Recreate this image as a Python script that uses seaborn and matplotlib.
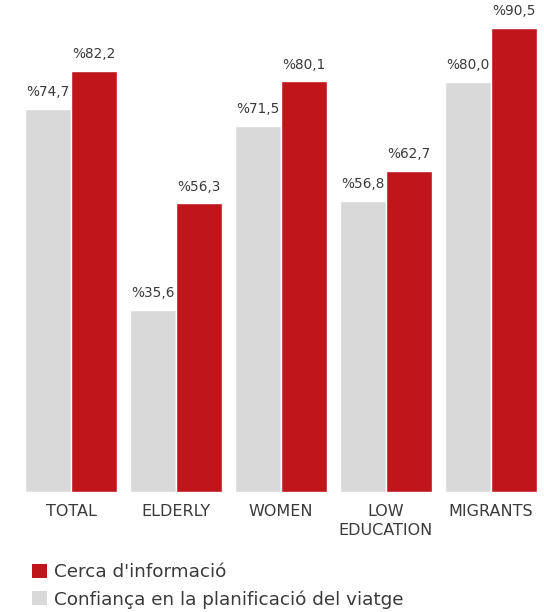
import matplotlib
matplotlib.use("Agg")
import matplotlib.pyplot as plt
from matplotlib.patches import Patch
import seaborn as sns
import pandas as pd

categories = ["TOTAL", "ELDERLY", "WOMEN", "LOW\nEDUCATION", "MIGRANTS"]
confianca = [74.7, 35.6, 71.5, 56.8, 80.0]
cerca = [82.2, 56.3, 80.1, 62.7, 90.5]
series_names = ["Confiança en la planificació del viatge", "Cerca d'informació"]

GREY = "#D9D9D9"
RED = "#C0161B"
TEXT = "#3A3A3A"

df = pd.DataFrame({
    "grup": categories * 2,
    "serie": [series_names[0]] * len(categories) + [series_names[1]] * len(categories),
    "valor": confianca + cerca,
})

sns.set_theme(style="white")
plt.rcParams["font.family"] = ["DejaVu Sans"]

fig = plt.figure(figsize=(5.44, 6.12), dpi=100)
ax = fig.add_axes([0.0, 120 / 612, 1.0, 492 / 612])

sns.barplot(data=df, x="grup", y="valor", hue="serie", order=categories,
            hue_order=series_names, palette=[GREY, RED], width=0.88,
            gap=0.02, ax=ax, legend=False, saturation=1)

for container in ax.containers:
    labels = ["%" + f"{v:.1f}".replace(".", ",") for v in container.datavalues]
    ax.bar_label(container, labels=labels, padding=7, fontsize=9.8, color=TEXT)

ax.set_ylim(0, 96)
ax.set_xlim(-0.676, 4.505)
ax.set_xlabel("")
ax.set_ylabel("")
ax.set_yticks([])
ax.tick_params(axis="x", length=0, pad=9, labelsize=11.5, labelcolor=TEXT)
for lbl in ax.get_xticklabels():
    lbl.set_linespacing(1.3)
for s in ax.spines.values():
    s.set_visible(False)

handles = [Patch(facecolor=RED, edgecolor="none"), Patch(facecolor=GREY, edgecolor="none")]
fig.legend(handles, [series_names[1], series_names[0]], loc="upper left",
           bbox_to_anchor=(32 / 544, 1 - 563 / 612), frameon=False,
           fontsize=13.2, handlelength=0.8, handleheight=0.8, handletextpad=0.4,
           labelspacing=0.5, labelcolor=TEXT, borderaxespad=0, borderpad=0)

fig.savefig("out.png", dpi=100)
